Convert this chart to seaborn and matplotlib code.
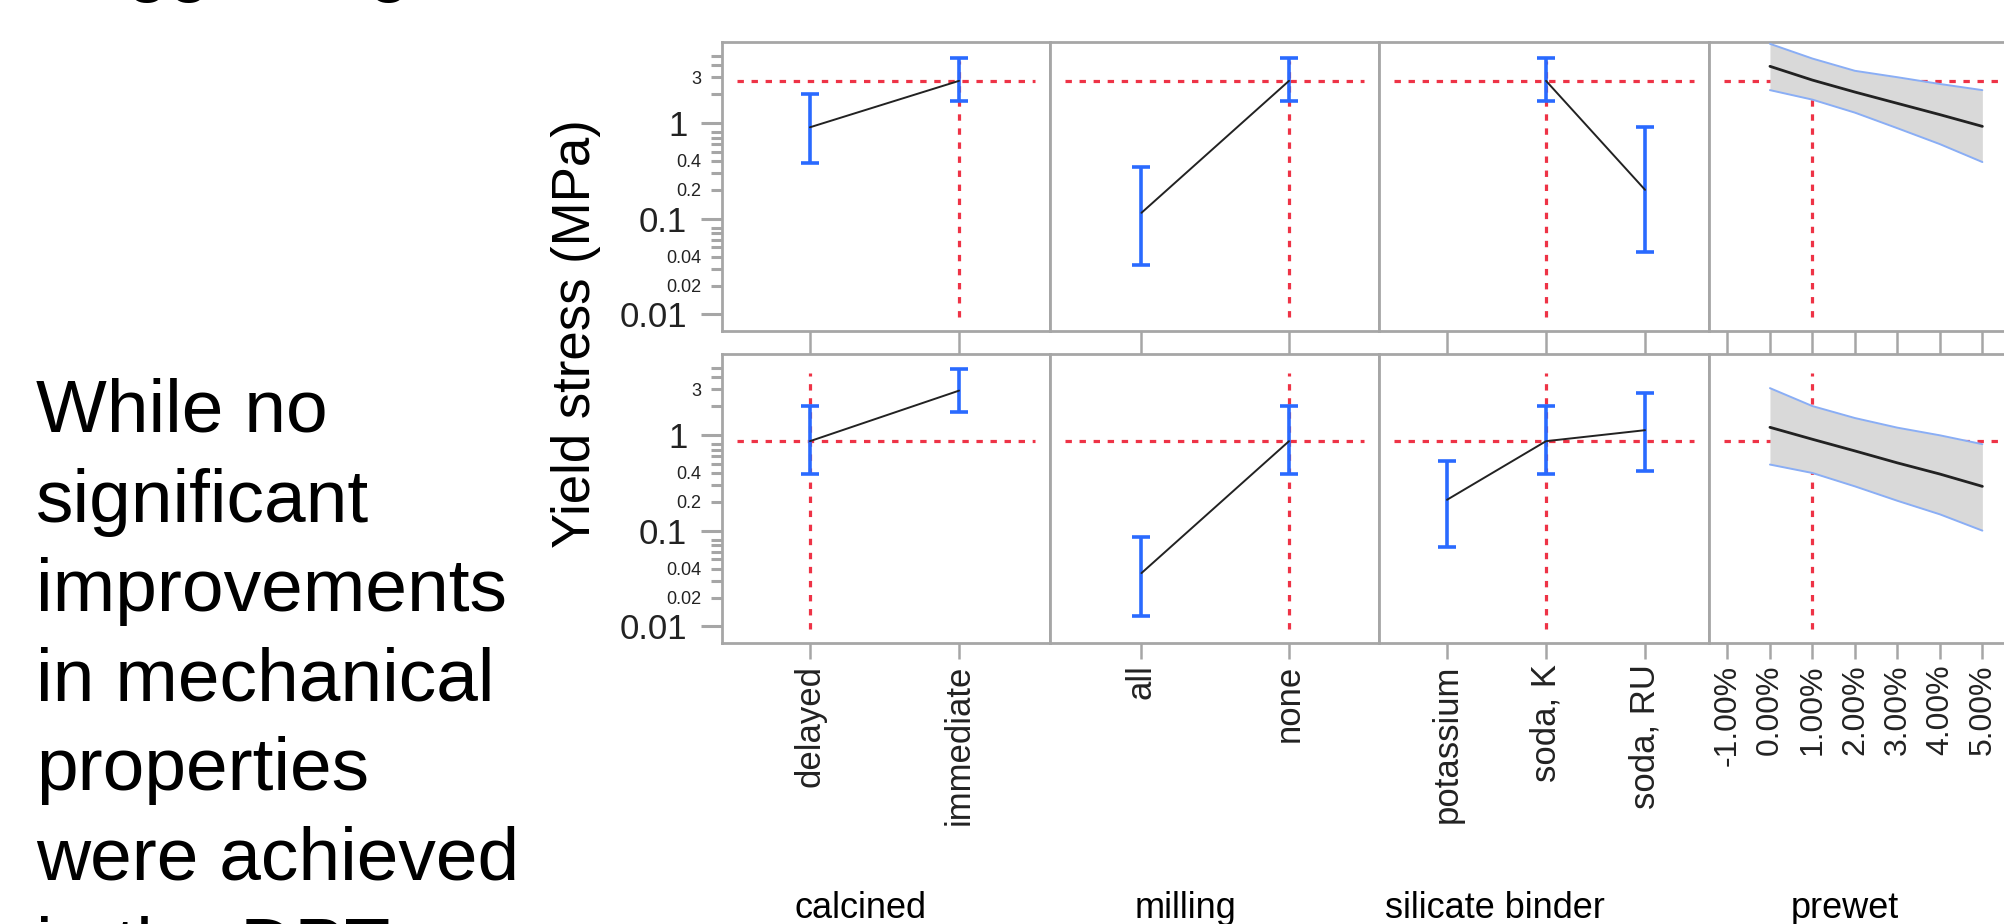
import numpy as np
import matplotlib
matplotlib.use("Agg")
import matplotlib.pyplot as plt
import seaborn as sns
from matplotlib.ticker import FixedLocator, FixedFormatter, NullLocator
from matplotlib import font_manager

# ---------------- data ----------------
calcined_levels = ["delayed", "immediate"]
calc_top_mean = [0.90, 2.75]
calc_top_lo = [0.38, 1.71]
calc_top_hi = [2.0, 4.8]
calc_bot_mean = [0.86, 2.9]
calc_bot_lo = [0.39, 1.72]
calc_bot_hi = [2.0, 4.85]

milling_levels = ["all", "none"]
mill_top_mean = [0.115, 2.75]
mill_top_lo = [0.033, 1.71]
mill_top_hi = [0.35, 4.8]
mill_bot_mean = [0.036, 0.86]
mill_bot_lo = [0.0128, 0.39]
mill_bot_hi = [0.085, 2.0]

silicate_levels = ["potassium", "soda, K", "soda, RU"]
sil_top_mean = [np.nan, 2.75, 0.20]
sil_top_lo = [np.nan, 1.71, 0.045]
sil_top_hi = [np.nan, 4.8, 0.90]
sil_bot_mean = [0.21, 0.86, 1.12]
sil_bot_lo = [0.067, 0.39, 0.415]
sil_bot_hi = [0.53, 2.0, 2.76]

prewet_pct = [0, 1, 2, 3, 4, 5]
pw_top_mean = [3.9, 2.8, 2.1, 1.6, 1.22, 0.92]
pw_top_hi = [6.7, 4.7, 3.5, 3.0, 2.55, 2.2]
pw_top_lo = [2.2, 1.75, 1.28, 0.88, 0.6, 0.39]
pw_bot_mean = [1.2, 0.90, 0.68, 0.51, 0.39, 0.29]
pw_bot_hi = [3.08, 2.0, 1.5, 1.19, 0.99, 0.80]
pw_bot_lo = [0.49, 0.40, 0.29, 0.205, 0.148, 0.10]
prewet_ticks = [-1, 0, 1, 2, 3, 4, 5]
prewet_labels = ["-1.00%", "0.00%", "1.00%", "2.00%", "3.00%", "4.00%", "5.00%"]

top_pred = 2.75
bot_pred = 0.86
top_current = [1, 1, 1, 1]   # immediate, none, soda K, 1%
bot_current = [0, 1, 1, 1]   # delayed, none, soda K, 1%

factor_names = ["calcined", "milling", "silicate binder", "prewet"]
y_major = [0.01, 0.1, 1]
y_major_labels = ["0.01", "0.1", "1"]
y_minor = [0.02, 0.03, 0.04, 0.05, 0.06, 0.07, 0.08,
           0.2, 0.3, 0.4, 0.5, 0.6, 0.7, 0.8, 2, 3, 4, 5]
y_minor_labels = ["0.02", "", "0.04", "", "", "", "",
                  "0.2", "", "0.4", "", "", "", "", "", "3", "", ""]
y_title = "Yield stress (MPa)"

body_lines = ["While no", "significant", "improvements", "in mechanical",
              "properties", "were achieved", "in the DPT"]
top_fragment = "Suggesting"

# ---------------- style ----------------
sns.set_style("white")
plt.rcParams["font.family"] = ["Liberation Sans", "DejaVu Sans"]
names = {f.name for f in font_manager.fontManager.ttflist}
HAS_NARROW = "Liberation Sans Narrow" in names
NARROW = ["Liberation Sans Narrow", "Liberation Sans"] if HAS_NARROW else ["Liberation Sans"]
group_fs = 32 if HAS_NARROW else 26

GRAY = "#A6A6A6"
RED = "#EE3346"
BLUE = "#2A6AFF"
BAND = "#D9D9D9"
BAND_EDGE = "#8AAEF5"
LINE = "#222222"
TXT = "#222222"

W, H = 2004, 924
fig = plt.figure(figsize=(W / 100, H / 100), dpi=100)


def add_ax(x0, y0, x1, y1):
    return fig.add_axes([x0 / W, 1 - y1 / H, (x1 - x0) / W, (y1 - y0) / H])


cols = [(722, 1050), (1050, 1379), (1379, 1709), (1709, 2038)]
rows = [(42, 331), (354, 643)]
xlims = [(-0.59, 1.61), (-0.62, 1.61), (-0.687, 2.646), (-1.435, 6.31)]
dash = (0, (2.0, 2.4))

cat_data = [
    (calcined_levels, (calc_top_mean, calc_top_lo, calc_top_hi), (calc_bot_mean, calc_bot_lo, calc_bot_hi)),
    (milling_levels, (mill_top_mean, mill_top_lo, mill_top_hi), (mill_bot_mean, mill_bot_lo, mill_bot_hi)),
    (silicate_levels, (sil_top_mean, sil_top_lo, sil_top_hi), (sil_bot_mean, sil_bot_lo, sil_bot_hi)),
]
pw_data = [(pw_top_mean, pw_top_lo, pw_top_hi), (pw_bot_mean, pw_bot_lo, pw_bot_hi)]
preds = [top_pred, bot_pred]
currents = [top_current, bot_current]

for r, (y0, y1) in enumerate(rows):
    vmin = 0.05
    vmax = 0.934
    for c, (x0, x1) in enumerate(cols):
        ax = add_ax(x0, y0, x1, y1)
        ax.set_yscale("log")
        ax.set_ylim(0.0067, 7.0)
        ax.set_xlim(*xlims[c])
        for s in ax.spines.values():
            s.set_color(GRAY)
            s.set_linewidth(2.0)
            s.set_visible(True)
        ax.set_facecolor("white")

        # reference lines
        ax.axhline(preds[r], xmin=0.045, xmax=0.955, color=RED, lw=2.3, ls=dash, zorder=1)
        ax.axvline(currents[r][c], ymin=vmin, ymax=vmax, color=RED, lw=2.3, ls=dash, zorder=1)

        if c < 3:
            levels, top, bot = cat_data[c]
            mean, lo, hi = [np.array(v, dtype=float) for v in (top if r == 0 else bot)]
            xs = np.arange(len(levels))
            m = ~np.isnan(mean)
            sns.lineplot(x=xs[m], y=mean[m], ax=ax, color=LINE, linewidth=1.4,
                         errorbar=None, zorder=4)
            ax.errorbar(xs[m], mean[m], yerr=[mean[m] - lo[m], hi[m] - mean[m]], fmt="none",
                        ecolor=BLUE, elinewidth=2.6, capsize=6.2, capthick=2.6, zorder=3)
            ax.set_xticks(xs)
            ax.set_xticklabels(levels if r == 1 else [""] * len(levels))
        else:
            mean, lo, hi = pw_data[r]
            ax.fill_between(prewet_pct, lo, hi, color=BAND, lw=0, zorder=2)
            sns.lineplot(x=prewet_pct, y=hi, ax=ax, color=BAND_EDGE, linewidth=1.4, zorder=3)
            sns.lineplot(x=prewet_pct, y=lo, ax=ax, color=BAND_EDGE, linewidth=1.4, zorder=3)
            sns.lineplot(x=prewet_pct, y=mean, ax=ax, color=LINE, linewidth=2.0, zorder=4)
            ax.set_xticks(prewet_ticks)
            ax.set_xticklabels(prewet_labels if r == 1 else [""] * len(prewet_ticks))
        ax.set_xlabel("")
        ax.set_ylabel("")

        # x ticks
        if r == 0:
            ax.tick_params(axis="x", which="major", direction="out", length=16.6, width=1.8,
                           color=GRAY, bottom=True, labelbottom=False)
        else:
            ax.tick_params(axis="x", which="major", direction="out", length=11.5, width=1.8,
                           color=GRAY, bottom=True, pad=4, labelsize=25 if c < 3 else 23,
                           labelcolor=TXT, labelrotation=90)
        ax.xaxis.set_minor_locator(NullLocator())

        # y ticks
        if c == 0:
            ax.yaxis.set_major_locator(FixedLocator(y_major))
            ax.yaxis.set_major_formatter(FixedFormatter(y_major_labels))
            ax.yaxis.set_minor_locator(FixedLocator(y_minor))
            ax.yaxis.set_minor_formatter(FixedFormatter(y_minor_labels))
            ax.tick_params(axis="y", which="major", direction="out", length=15, width=2.2,
                           color=GRAY, left=True, pad=10, labelsize=25, labelcolor=TXT)
            ax.tick_params(axis="y", which="minor", direction="out", length=8, width=2.2,
                           color=GRAY, left=True, pad=7, labelsize=13, labelcolor=TXT)
        else:
            ax.yaxis.set_minor_locator(NullLocator())
            ax.tick_params(axis="y", which="both", left=False, labelleft=False)

# texts
fig.text(576 / W, 1 - 334 / H, y_title, rotation=90, ha="center", va="center",
         fontsize=38, color="black")
group_x = [860, 1185, 1495, 1845]
for name, gx in zip(factor_names, group_x):
    fig.text(gx / W, 1 - 918 / H, name, ha="center", va="baseline",
             fontsize=group_fs, family=NARROW, color="black")

for i, line in enumerate(body_lines):
    fig.text(36 / W, 1 - (432 + i * 89.6) / H, line, ha="left", va="baseline",
             fontsize=54, color="black")
fig.text(36 / W, 1 + 12 / H, top_fragment, ha="left", va="baseline", fontsize=54, color="black")

fig.savefig("out.png", dpi=100, facecolor="white")
